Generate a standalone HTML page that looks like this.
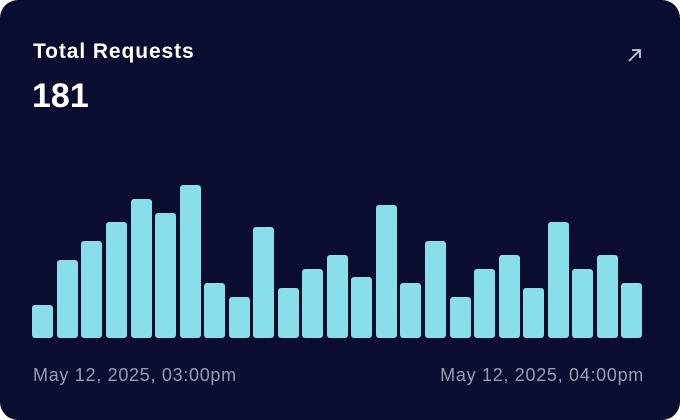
<!DOCTYPE html>
<html><head><style>
html,body{margin:0;padding:0;background:#fff;}
.card{position:absolute;left:0;top:0;width:680px;height:420px;border-radius:18px;background:#0a0c30;overflow:hidden;font-family:"Liberation Sans",sans-serif;}
.t{position:absolute;left:33px;top:40px;color:#fff;font-size:21px;font-weight:700;letter-spacing:0.9px;}
.n{position:absolute;left:32px;top:77px;color:#fff;font-size:34px;font-weight:700;}
.l{position:absolute;top:365px;color:#9a9cb3;font-size:18px;letter-spacing:0.7px;}
.b{position:absolute;width:21px;background:#88dfeb;border-radius:3px;bottom:82px;}
</style></head><body><div class="card">
<div class="t">Total Requests</div>
<div class="n">181</div>
<svg style="position:absolute;left:626px;top:46px" width="18" height="18" viewBox="0 0 18 18"><path d="M3 15L14 4M6 4H14V12" stroke="#c9cbd8" stroke-width="1.8" fill="none"/></svg>
<div id="bars"></div>
<div class="l" style="left:33px">May 12, 2025, 03:00pm</div>
<div class="l" style="right:36px">May 12, 2025, 04:00pm</div>
</div>
<script>
var tops=[305.3,260.3,241,221.7,199.3,213.3,185.3,283,297,227.3,288.3,269,255,277.3,204.7,283,241,297,269,255,288.3,221.7,269,255,283];
var h='';for(var i=0;i<25;i++){var x=32.3+i*24.54;h+='<div class="b" style="left:'+x.toFixed(1)+'px;top:'+tops[i]+'px"></div>';}
document.getElementById('bars').innerHTML=h;
</script>
</body></html>
